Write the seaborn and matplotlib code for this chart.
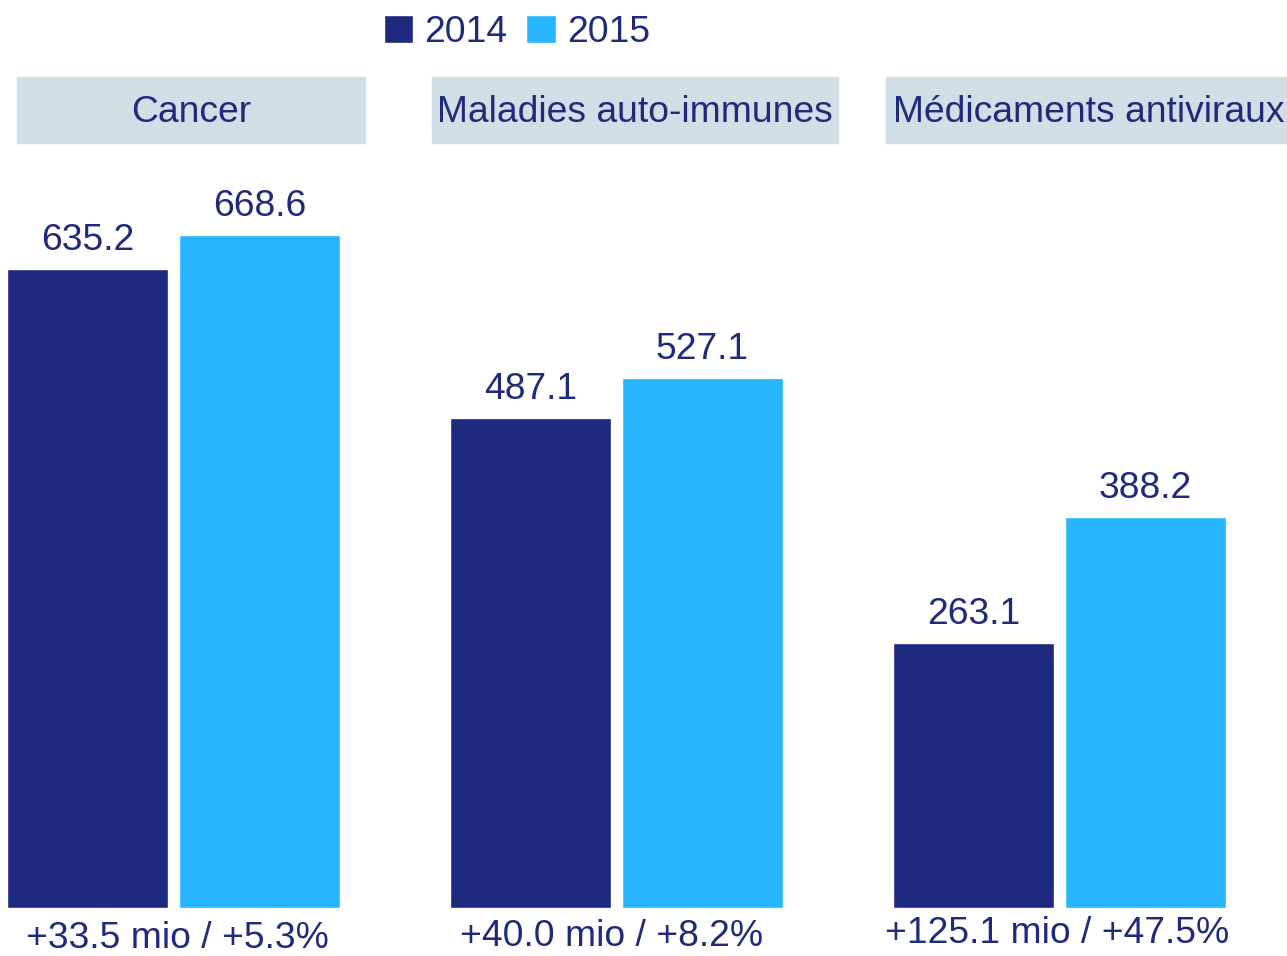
import seaborn as sns
import matplotlib.pyplot as plt
from matplotlib.patches import Rectangle
import pandas as pd

# Data
categories = ['Cancer', 'Maladies auto-immunes', 'Médicaments antiviraux']
years = ['2014', '2015']
values_2014 = [635.2, 487.1, 263.1]
values_2015 = [668.6, 527.1, 388.2]
growth_labels = ['+33.5 mio / +5.3%', '+40.0 mio / +8.2%', '+125.1 mio / +47.5%']

dark = '#1e2a7f'
light = '#27b5fe'
text_col = '#1f2a7c'
box_col = '#d1dee5'
font_size = 26.8

sns.set_style('white')
plt.rcParams['font.family'] = ['Liberation Sans', 'DejaVu Sans']

df = pd.DataFrame({
    'category': categories * 2,
    'year': [years[0]] * 3 + [years[1]] * 3,
    'value': values_2014 + values_2015,
})

W, H = 1287, 956
fig = plt.figure(figsize=(W / 100, H / 100), dpi=100)
ax = fig.add_axes([0, 48 / H, 1, 908 / H])

sns.barplot(data=df, x='category', y='value', hue='year', order=categories,
            hue_order=years, palette=[dark, light], width=0.7765, gap=0.065,
            saturation=1, ax=ax, legend=True)

ax.set_xlim(-173.5 / 443, (W - 173.5) / 443)
ax.set_ylim(0, 908 / 1.006)
ax.set_axis_off()

# value labels above bars
for container in ax.containers:
    for bar in container:
        h = bar.get_height()
        ax.annotate('{:.1f}'.format(h), (bar.get_x() + bar.get_width() / 2, h),
                    xytext=(0, 13.7), textcoords='offset points',
                    ha='center', va='baseline', fontsize=font_size, color=text_col)

# legend
leg = ax.get_legend()
handles = leg.legend_handles
leg.remove()
fig.legend(handles, years, loc='upper left', bbox_to_anchor=(365 / W, 1 + 4 / H),
           ncol=2, frameon=False, fontsize=font_size, labelcolor=text_col,
           handlelength=0.8, handleheight=0.8, handletextpad=0.3,
           columnspacing=0.5, borderpad=0.0)

# header boxes
boxes = [(17, 365), (432, 838), (886, 1287)]
for (x0, x1), name in zip(boxes, categories):
    fig.patches.append(Rectangle((x0 / W, 1 - 143 / H), (x1 - x0) / W, 66 / H,
                                 transform=fig.transFigure, color=box_col, zorder=0))
    fig.text((x0 + x1) / 2 / W if x1 < W else 893 / W, 1 - 122 / H, name,
             ha='center' if x1 < W else 'left', va='baseline',
             fontsize=font_size, color=text_col)

# growth labels under bars
label_x = [177.5, 611.5, 1057.5]
label_y = [948, 946, 943]
for x, y, txt in zip(label_x, label_y, growth_labels):
    fig.text(x / W, 1 - y / H, txt, ha='center', va='baseline',
             fontsize=font_size, color=text_col)

plt.savefig('out.png', dpi=100)
